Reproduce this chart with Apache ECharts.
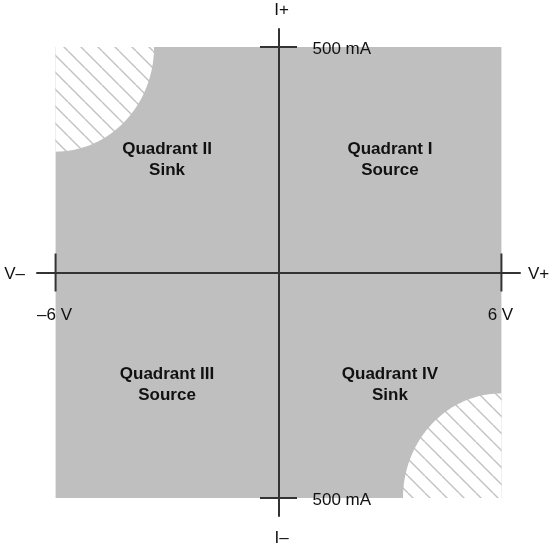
<!DOCTYPE html>
<html lang="en">
<head>
<meta charset="UTF-8">
<title>Quadrants</title>
<script src="https://cdn.jsdelivr.net/npm/echarts@6/dist/echarts.min.js"></script>
<style>html,body{margin:0;padding:0;background:#fff;}</style>
</head>
<body>
<div id="main" style="width:550px;height:545px;"></div>
<script>
// operating range (volts, milliamps)
var voltRange = [-6, 6];
var currRange = [-500, 500];
// axis ends reach a little past the range
var voltAxis = [-6.5, 6.5];
var currAxis = [-540, 540];

var voltTicks = [-6, 6];
var voltTickLabels = ['–6 V', '6 V'];
var currTicks = [500, -500];
var currTickLabels = ['500 mA', '500 mA'];

var voltEndLabels = ['V–', 'V+'];
var currEndLabels = ['I+', 'I–'];

var quadX = [3, -3, -3, 3];
var quadY = [250, 250, -250, -250];
var quadNames = ['Quadrant I\nSource', 'Quadrant II\nSink', 'Quadrant III\nSource', 'Quadrant IV\nSink'];

// hatched (not allowed) corners, quarter ellipse radii in data units
var hatchX = [-6, 6];
var hatchY = [500, -500];
var hatchRx = 2.65;
var hatchRy = 232;

var FONT = '"Liberation Sans", Arial, Helvetica, sans-serif';
var LINE = '#333333';

// diagonal hatch tile
function hatchPattern() {
    var s = 17;
    var c = document.createElement('canvas');
    c.width = s; c.height = s;
    var ctx = c.getContext('2d');
    ctx.fillStyle = '#ffffff';
    ctx.fillRect(0, 0, s, s);
    ctx.strokeStyle = '#c2c2c2';
    ctx.lineWidth = 1.4;
    for (var k = -1; k <= 1; k++) {
        ctx.beginPath();
        ctx.moveTo(k * s, 0);
        ctx.lineTo(k * s + s, s);
        ctx.stroke();
    }
    return c;
}
var pattern = {image: hatchPattern(), repeat: 'repeat'};

var chart = echarts.init(document.getElementById('main'));

var option = {
    animation: false,
    grid: {left: 37, right: 30, top: 29, bottom: 29},
    xAxis: {
        type: 'value', min: voltAxis[0], max: voltAxis[1],
        axisLine: {show: true, onZero: true, lineStyle: {color: LINE, width: 2}},
        axisTick: {show: false}, axisLabel: {show: false}, splitLine: {show: false}
    },
    yAxis: {
        type: 'value', min: currAxis[0], max: currAxis[1],
        axisLine: {show: true, onZero: true, lineStyle: {color: LINE, width: 2}},
        axisTick: {show: false}, axisLabel: {show: false}, splitLine: {show: false}
    },
    series: [
        {
            // grey operating area
            type: 'custom', z: 0,
            data: [[voltRange[0], currRange[0], voltRange[1], currRange[1]]],
            encode: {x: [0, 2], y: [1, 3]},
            renderItem: function (params, api) {
                var a = api.coord([api.value(0), api.value(3)]);
                var b = api.coord([api.value(2), api.value(1)]);
                return {
                    type: 'rect',
                    shape: {x: a[0], y: a[1], width: b[0] - a[0], height: b[1] - a[1]},
                    style: {fill: '#bfbfbf'}
                };
            }
        },
        {
            // hatched corners
            type: 'custom', z: 1,
            data: hatchX.map(function (x, i) { return [x, hatchY[i]]; }),
            renderItem: function (params, api) {
                var cx = api.value(0), cy = api.value(1);
                var sx = cx < 0 ? 1 : -1, sy = cy < 0 ? 1 : -1;
                var pts = [api.coord([cx, cy])];
                for (var j = 0; j <= 60; j++) {
                    var t = j / 60 * Math.PI / 2;
                    pts.push(api.coord([cx + sx * hatchRx * Math.cos(t), cy + sy * hatchRy * Math.sin(t)]));
                }
                return {type: 'polygon', shape: {points: pts}, style: {fill: pattern}};
            }
        },
        {
            // voltage ticks and labels
            type: 'custom', z: 3,
            data: voltTicks.map(function (v) { return [v, 0]; }),
            renderItem: function (params, api) {
                var p = api.coord([api.value(0), 0]);
                return {type: 'group', children: [
                    {type: 'line', shape: {x1: p[0], y1: p[1] - 19, x2: p[0], y2: p[1] + 19},
                     style: {stroke: LINE, lineWidth: 2}},
                    {type: 'text', x: p[0] - 1, y: p[1] + 43,
                     style: {text: voltTickLabels[params.dataIndex], font: '17px ' + FONT, fill: '#111',
                              align: 'center', verticalAlign: 'middle'}}
                ]};
            }
        },
        {
            // current ticks and labels
            type: 'custom', z: 3,
            data: currTicks.map(function (v) { return [0, v]; }),
            renderItem: function (params, api) {
                var p = api.coord([0, api.value(1)]);
                return {type: 'group', children: [
                    {type: 'line', shape: {x1: p[0] - 18.5, y1: p[1], x2: p[0] + 18.5, y2: p[1]},
                     style: {stroke: LINE, lineWidth: 2}},
                    {type: 'text', x: p[0] + 34, y: p[1] + 2.5,
                     style: {text: currTickLabels[params.dataIndex], font: '17px ' + FONT, fill: '#111',
                              align: 'left', verticalAlign: 'middle'}}
                ]};
            }
        },
        {
            // axis end names
            type: 'custom', z: 3,
            data: [[voltAxis[0], 0], [voltAxis[1], 0], [0, currAxis[1]], [0, currAxis[0]]],
            renderItem: function (params, api) {
                var i = params.dataIndex;
                var p = api.coord([api.value(0), api.value(1)]);
                var txt, x, y, align = 'center';
                if (i === 0) { txt = voltEndLabels[0]; x = p[0] - 12; y = p[1] + 2; align = 'right'; }
                else if (i === 1) { txt = voltEndLabels[1]; x = p[0] + 8; y = p[1] + 2; align = 'left'; }
                else if (i === 2) { txt = currEndLabels[0]; x = p[0] + 3; y = p[1] - 18.5; }
                else { txt = currEndLabels[1]; x = p[0] + 3; y = p[1] + 22; }
                return {type: 'text', x: x, y: y,
                        style: {text: txt, font: '17px ' + FONT, fill: '#111', align: align, verticalAlign: 'middle'}};
            }
        },
        {
            // quadrant names
            type: 'custom', z: 3,
            data: quadX.map(function (x, i) { return [x, quadY[i]]; }),
            renderItem: function (params, api) {
                var p = api.coord([api.value(0), api.value(1)]);
                return {type: 'text', x: p[0], y: p[1],
                        style: {text: quadNames[params.dataIndex], font: 'bold 17px ' + FONT, fill: '#111',
                                lineHeight: 21, align: 'center', verticalAlign: 'middle'}};
            }
        }
    ]
};

chart.setOption(option);
</script>
</body>
</html>
